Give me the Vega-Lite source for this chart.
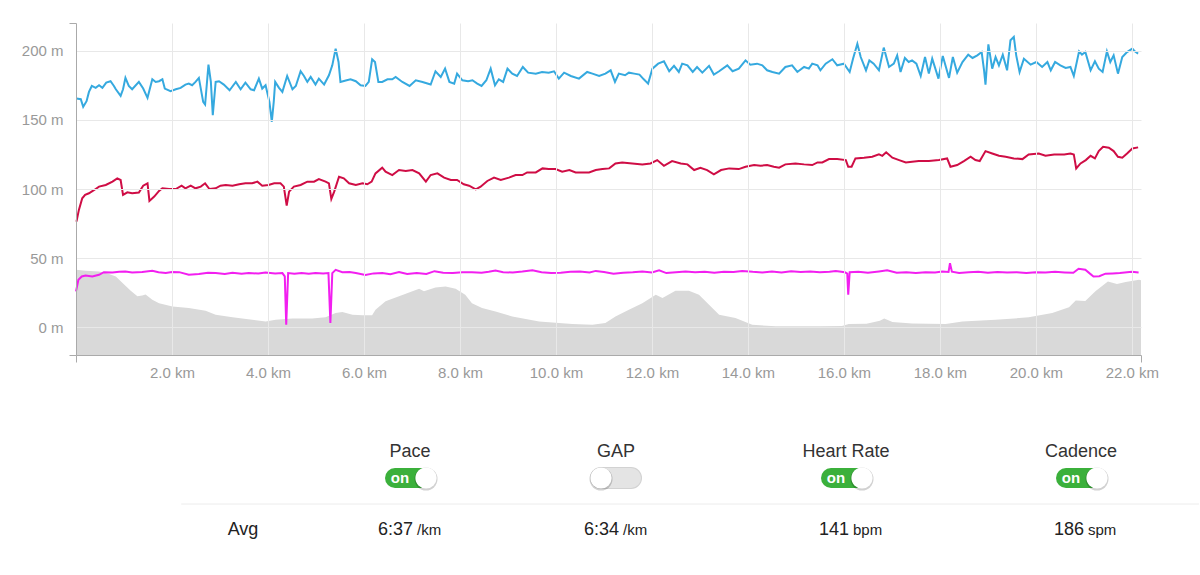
{
  "$schema": "https://vega.github.io/schema/vega-lite/v6.json",
  "padding": {"left": 21, "top": 22, "right": 0, "bottom": 0},
  "background": "white",
  "config": {
    "view": {"stroke": null},
    "font": "Liberation Sans",
    "concat": {"spacing": 59}
  },
  "datasets": {
    "elev": [
      {"km": 0, "m": 41.6}, {"km": 0.2, "m": 40.9}, {"km": 0.48, "m": 40.4}, {"km": 0.69, "m": 38.5},
      {"km": 0.83, "m": 36.8}, {"km": 0.97, "m": 32.0}, {"km": 1.14, "m": 26.4}, {"km": 1.28, "m": 22.4},
      {"km": 1.38, "m": 23.1}, {"km": 1.45, "m": 23.8}, {"km": 1.59, "m": 20.0}, {"km": 1.73, "m": 17.5},
      {"km": 2.01, "m": 15.1}, {"km": 2.35, "m": 13.9}, {"km": 2.7, "m": 12.0}, {"km": 2.91, "m": 9.1},
      {"km": 3.26, "m": 7.2}, {"km": 3.67, "m": 5.5}, {"km": 3.95, "m": 4.3}, {"km": 4.16, "m": 5.5},
      {"km": 4.51, "m": 6.3}, {"km": 4.92, "m": 6.3}, {"km": 5.2, "m": 7.2}, {"km": 5.41, "m": 10.3},
      {"km": 5.55, "m": 11.1}, {"km": 5.76, "m": 9.1}, {"km": 5.97, "m": 8.7}, {"km": 6.17, "m": 8.7},
      {"km": 6.24, "m": 12.7}, {"km": 6.45, "m": 18.8}, {"km": 6.73, "m": 22.4}, {"km": 7.01, "m": 26.0},
      {"km": 7.15, "m": 27.9}, {"km": 7.25, "m": 26.0}, {"km": 7.49, "m": 28.8}, {"km": 7.7, "m": 29.6},
      {"km": 7.91, "m": 27.9}, {"km": 8.11, "m": 23.6}, {"km": 8.25, "m": 17.5}, {"km": 8.46, "m": 13.9},
      {"km": 8.74, "m": 11.5}, {"km": 9.09, "m": 7.9}, {"km": 9.65, "m": 4.3}, {"km": 10.34, "m": 2.4},
      {"km": 10.76, "m": 1.9}, {"km": 11.03, "m": 3.1}, {"km": 11.24, "m": 7.9}, {"km": 11.52, "m": 12.7},
      {"km": 11.8, "m": 17.5}, {"km": 12.08, "m": 23.6}, {"km": 12.22, "m": 21.2}, {"km": 12.49, "m": 26.4},
      {"km": 12.77, "m": 26.4}, {"km": 12.98, "m": 23.6}, {"km": 13.19, "m": 16.3}, {"km": 13.4, "m": 9.1},
      {"km": 13.74, "m": 6.7}, {"km": 14.09, "m": 1.9}, {"km": 14.58, "m": 0.7}, {"km": 15.5, "m": 0.7},
      {"km": 15.96, "m": 0.9}, {"km": 16.1, "m": 2.4}, {"km": 16.47, "m": 2.6}, {"km": 16.75, "m": 4.8},
      {"km": 16.84, "m": 6.3}, {"km": 17.01, "m": 3.8}, {"km": 17.42, "m": 2.8}, {"km": 18.12, "m": 2.4},
      {"km": 18.47, "m": 4.3}, {"km": 19.16, "m": 5.5}, {"km": 19.85, "m": 7.2}, {"km": 20.34, "m": 10.3},
      {"km": 20.69, "m": 14.5}, {"km": 20.83, "m": 19.4}, {"km": 21.03, "m": 19.0}, {"km": 21.24, "m": 26.0},
      {"km": 21.5, "m": 33.2}, {"km": 21.69, "m": 31.3}, {"km": 21.87, "m": 32.7}, {"km": 22.15, "m": 34.4},
      {"km": 22.19, "m": 34.0}
    ],
    "lines": [
      {"s": "pace", "km": 0.01, "v": 165.4}, {"s": "pace", "km": 0.10, "v": 164.9}, {"s": "pace", "km": 0.15, "v": 159.4},
      {"s": "pace", "km": 0.22, "v": 163.5}, {"s": "pace", "km": 0.27, "v": 170.2}, {"s": "pace", "km": 0.33, "v": 174.5},
      {"s": "pace", "km": 0.41, "v": 173.1}, {"s": "pace", "km": 0.48, "v": 175.0}, {"s": "pace", "km": 0.55, "v": 173.1},
      {"s": "pace", "km": 0.63, "v": 176.9}, {"s": "pace", "km": 0.72, "v": 177.9}, {"s": "pace", "km": 0.79, "v": 174.5},
      {"s": "pace", "km": 0.83, "v": 172.1}, {"s": "pace", "km": 0.93, "v": 167.3}, {"s": "pace", "km": 0.98, "v": 172.1},
      {"s": "pace", "km": 1.03, "v": 180.3}, {"s": "pace", "km": 1.10, "v": 174.5}, {"s": "pace", "km": 1.17, "v": 172.1},
      {"s": "pace", "km": 1.31, "v": 177.4}, {"s": "pace", "km": 1.40, "v": 172.6}, {"s": "pace", "km": 1.49, "v": 165.9},
      {"s": "pace", "km": 1.59, "v": 179.3}, {"s": "pace", "km": 1.66, "v": 177.4}, {"s": "pace", "km": 1.73, "v": 177.9},
      {"s": "pace", "km": 1.80, "v": 179.3}, {"s": "pace", "km": 1.85, "v": 172.6}, {"s": "pace", "km": 1.97, "v": 170.7},
      {"s": "pace", "km": 2.08, "v": 172.1}, {"s": "pace", "km": 2.18, "v": 173.1}, {"s": "pace", "km": 2.28, "v": 175.5},
      {"s": "pace", "km": 2.35, "v": 176.2}, {"s": "pace", "km": 2.42, "v": 175.0}, {"s": "pace", "km": 2.49, "v": 177.4},
      {"s": "pace", "km": 2.56, "v": 180.3}, {"s": "pace", "km": 2.65, "v": 163.0}, {"s": "pace", "km": 2.69, "v": 161.1},
      {"s": "pace", "km": 2.76, "v": 189.9}, {"s": "pace", "km": 2.81, "v": 177.4}, {"s": "pace", "km": 2.85, "v": 153.4},
      {"s": "pace", "km": 2.91, "v": 177.4}, {"s": "pace", "km": 2.98, "v": 177.9}, {"s": "pace", "km": 3.08, "v": 175.5},
      {"s": "pace", "km": 3.20, "v": 171.4}, {"s": "pace", "km": 3.33, "v": 177.4}, {"s": "pace", "km": 3.43, "v": 172.1},
      {"s": "pace", "km": 3.53, "v": 176.9}, {"s": "pace", "km": 3.64, "v": 172.1}, {"s": "pace", "km": 3.71, "v": 171.4},
      {"s": "pace", "km": 3.81, "v": 179.8}, {"s": "pace", "km": 3.88, "v": 172.6}, {"s": "pace", "km": 3.95, "v": 175.0},
      {"s": "pace", "km": 4.03, "v": 163.0}, {"s": "pace", "km": 4.08, "v": 148.6}, {"s": "pace", "km": 4.12, "v": 163.0},
      {"s": "pace", "km": 4.15, "v": 177.4}, {"s": "pace", "km": 4.23, "v": 173.1}, {"s": "pace", "km": 4.30, "v": 170.2},
      {"s": "pace", "km": 4.40, "v": 181.7}, {"s": "pace", "km": 4.51, "v": 172.1}, {"s": "pace", "km": 4.58, "v": 174.5},
      {"s": "pace", "km": 4.68, "v": 185.1}, {"s": "pace", "km": 4.75, "v": 181.7}, {"s": "pace", "km": 4.82, "v": 177.4},
      {"s": "pace", "km": 4.89, "v": 181.0}, {"s": "pace", "km": 4.99, "v": 175.5}, {"s": "pace", "km": 5.06, "v": 179.8},
      {"s": "pace", "km": 5.17, "v": 175.5}, {"s": "pace", "km": 5.27, "v": 182.2}, {"s": "pace", "km": 5.34, "v": 189.4},
      {"s": "pace", "km": 5.41, "v": 201.5}, {"s": "pace", "km": 5.47, "v": 191.8}, {"s": "pace", "km": 5.51, "v": 177.4},
      {"s": "pace", "km": 5.62, "v": 178.4}, {"s": "pace", "km": 5.72, "v": 179.3}, {"s": "pace", "km": 5.83, "v": 177.9},
      {"s": "pace", "km": 5.93, "v": 175.0}, {"s": "pace", "km": 6.03, "v": 174.5}, {"s": "pace", "km": 6.10, "v": 177.4},
      {"s": "pace", "km": 6.17, "v": 193.8}, {"s": "pace", "km": 6.23, "v": 191.8}, {"s": "pace", "km": 6.30, "v": 177.4},
      {"s": "pace", "km": 6.38, "v": 177.4}, {"s": "pace", "km": 6.49, "v": 179.3}, {"s": "pace", "km": 6.59, "v": 179.3},
      {"s": "pace", "km": 6.66, "v": 181.0}, {"s": "pace", "km": 6.80, "v": 177.4}, {"s": "pace", "km": 6.95, "v": 174.5},
      {"s": "pace", "km": 7.08, "v": 178.6}, {"s": "pace", "km": 7.22, "v": 177.4}, {"s": "pace", "km": 7.39, "v": 175.5},
      {"s": "pace", "km": 7.49, "v": 185.1}, {"s": "pace", "km": 7.60, "v": 181.0}, {"s": "pace", "km": 7.69, "v": 187.0},
      {"s": "pace", "km": 7.78, "v": 177.4}, {"s": "pace", "km": 7.88, "v": 176.2}, {"s": "pace", "km": 7.94, "v": 183.4},
      {"s": "pace", "km": 8.05, "v": 178.6}, {"s": "pace", "km": 8.17, "v": 177.9}, {"s": "pace", "km": 8.26, "v": 178.6},
      {"s": "pace", "km": 8.36, "v": 176.2}, {"s": "pace", "km": 8.45, "v": 174.5}, {"s": "pace", "km": 8.55, "v": 178.6},
      {"s": "pace", "km": 8.64, "v": 187.0}, {"s": "pace", "km": 8.73, "v": 175.0}, {"s": "pace", "km": 8.81, "v": 179.3},
      {"s": "pace", "km": 8.90, "v": 177.4}, {"s": "pace", "km": 8.99, "v": 187.0}, {"s": "pace", "km": 9.09, "v": 183.4},
      {"s": "pace", "km": 9.19, "v": 181.7}, {"s": "pace", "km": 9.31, "v": 188.2}, {"s": "pace", "km": 9.42, "v": 184.1},
      {"s": "pace", "km": 9.58, "v": 183.4}, {"s": "pace", "km": 9.71, "v": 184.6}, {"s": "pace", "km": 9.85, "v": 184.1},
      {"s": "pace", "km": 9.96, "v": 185.1}, {"s": "pace", "km": 10.06, "v": 179.8}, {"s": "pace", "km": 10.17, "v": 184.1},
      {"s": "pace", "km": 10.31, "v": 181.7}, {"s": "pace", "km": 10.48, "v": 179.8}, {"s": "pace", "km": 10.65, "v": 184.6},
      {"s": "pace", "km": 10.76, "v": 183.4}, {"s": "pace", "km": 10.90, "v": 181.7}, {"s": "pace", "km": 11.03, "v": 183.4},
      {"s": "pace", "km": 11.14, "v": 185.8}, {"s": "pace", "km": 11.23, "v": 177.4}, {"s": "pace", "km": 11.31, "v": 183.4},
      {"s": "pace", "km": 11.44, "v": 182.2}, {"s": "pace", "km": 11.52, "v": 184.1}, {"s": "pace", "km": 11.63, "v": 183.4},
      {"s": "pace", "km": 11.74, "v": 182.7}, {"s": "pace", "km": 11.83, "v": 179.3}, {"s": "pace", "km": 11.92, "v": 176.2},
      {"s": "pace", "km": 12.01, "v": 187.0}, {"s": "pace", "km": 12.13, "v": 190.6}, {"s": "pace", "km": 12.25, "v": 192.3},
      {"s": "pace", "km": 12.36, "v": 185.1}, {"s": "pace", "km": 12.46, "v": 189.0}, {"s": "pace", "km": 12.56, "v": 184.6},
      {"s": "pace", "km": 12.63, "v": 190.6}, {"s": "pace", "km": 12.74, "v": 189.4}, {"s": "pace", "km": 12.85, "v": 184.6},
      {"s": "pace", "km": 12.94, "v": 188.2}, {"s": "pace", "km": 13.05, "v": 184.1}, {"s": "pace", "km": 13.19, "v": 189.0},
      {"s": "pace", "km": 13.29, "v": 182.7}, {"s": "pace", "km": 13.40, "v": 185.1}, {"s": "pace", "km": 13.57, "v": 189.4},
      {"s": "pace", "km": 13.68, "v": 185.1}, {"s": "pace", "km": 13.81, "v": 187.0}, {"s": "pace", "km": 13.95, "v": 193.0},
      {"s": "pace", "km": 14.05, "v": 189.9}, {"s": "pace", "km": 14.19, "v": 190.6}, {"s": "pace", "km": 14.30, "v": 189.4},
      {"s": "pace", "km": 14.40, "v": 185.8}, {"s": "pace", "km": 14.51, "v": 184.6}, {"s": "pace", "km": 14.65, "v": 183.4},
      {"s": "pace", "km": 14.78, "v": 188.2}, {"s": "pace", "km": 14.92, "v": 189.4}, {"s": "pace", "km": 15.03, "v": 184.6},
      {"s": "pace", "km": 15.17, "v": 188.2}, {"s": "pace", "km": 15.27, "v": 187.0}, {"s": "pace", "km": 15.34, "v": 190.6},
      {"s": "pace", "km": 15.45, "v": 189.4}, {"s": "pace", "km": 15.51, "v": 185.8}, {"s": "pace", "km": 15.62, "v": 190.6},
      {"s": "pace", "km": 15.76, "v": 193.8}, {"s": "pace", "km": 15.86, "v": 189.4}, {"s": "pace", "km": 16.00, "v": 190.6},
      {"s": "pace", "km": 16.12, "v": 184.6}, {"s": "pace", "km": 16.19, "v": 194.2}, {"s": "pace", "km": 16.28, "v": 205.0},
      {"s": "pace", "km": 16.35, "v": 195.4}, {"s": "pace", "km": 16.46, "v": 185.8}, {"s": "pace", "km": 16.53, "v": 193.0},
      {"s": "pace", "km": 16.62, "v": 190.6}, {"s": "pace", "km": 16.73, "v": 185.8}, {"s": "pace", "km": 16.83, "v": 202.2},
      {"s": "pace", "km": 16.94, "v": 188.2}, {"s": "pace", "km": 17.04, "v": 190.6}, {"s": "pace", "km": 17.11, "v": 196.6},
      {"s": "pace", "km": 17.18, "v": 184.6}, {"s": "pace", "km": 17.27, "v": 194.7}, {"s": "pace", "km": 17.35, "v": 191.8},
      {"s": "pace", "km": 17.42, "v": 193.0}, {"s": "pace", "km": 17.51, "v": 190.6}, {"s": "pace", "km": 17.60, "v": 181.7},
      {"s": "pace", "km": 17.69, "v": 195.4}, {"s": "pace", "km": 17.77, "v": 183.4}, {"s": "pace", "km": 17.84, "v": 194.2},
      {"s": "pace", "km": 17.97, "v": 179.8}, {"s": "pace", "km": 18.06, "v": 196.2}, {"s": "pace", "km": 18.19, "v": 180.3},
      {"s": "pace", "km": 18.27, "v": 195.4}, {"s": "pace", "km": 18.36, "v": 184.1}, {"s": "pace", "km": 18.47, "v": 191.8},
      {"s": "pace", "km": 18.59, "v": 197.1}, {"s": "pace", "km": 18.68, "v": 194.7}, {"s": "pace", "km": 18.78, "v": 196.6},
      {"s": "pace", "km": 18.87, "v": 199.0}, {"s": "pace", "km": 18.92, "v": 185.8}, {"s": "pace", "km": 18.95, "v": 175.5},
      {"s": "pace", "km": 19.01, "v": 204.5}, {"s": "pace", "km": 19.09, "v": 187.0}, {"s": "pace", "km": 19.16, "v": 195.4},
      {"s": "pace", "km": 19.23, "v": 189.4}, {"s": "pace", "km": 19.31, "v": 197.1}, {"s": "pace", "km": 19.40, "v": 185.8},
      {"s": "pace", "km": 19.47, "v": 207.5}, {"s": "pace", "km": 19.54, "v": 209.9}, {"s": "pace", "km": 19.59, "v": 196.6},
      {"s": "pace", "km": 19.66, "v": 184.6}, {"s": "pace", "km": 19.75, "v": 194.2}, {"s": "pace", "km": 19.89, "v": 189.9},
      {"s": "pace", "km": 20.01, "v": 191.8}, {"s": "pace", "km": 20.13, "v": 188.2}, {"s": "pace", "km": 20.24, "v": 191.8},
      {"s": "pace", "km": 20.31, "v": 185.8}, {"s": "pace", "km": 20.40, "v": 191.8}, {"s": "pace", "km": 20.51, "v": 189.4},
      {"s": "pace", "km": 20.62, "v": 187.5}, {"s": "pace", "km": 20.72, "v": 188.2}, {"s": "pace", "km": 20.79, "v": 181.7},
      {"s": "pace", "km": 20.90, "v": 199.5}, {"s": "pace", "km": 20.96, "v": 197.1}, {"s": "pace", "km": 21.03, "v": 199.0},
      {"s": "pace", "km": 21.14, "v": 185.8}, {"s": "pace", "km": 21.23, "v": 192.3}, {"s": "pace", "km": 21.31, "v": 187.0},
      {"s": "pace", "km": 21.39, "v": 184.6}, {"s": "pace", "km": 21.48, "v": 199.5}, {"s": "pace", "km": 21.55, "v": 191.8},
      {"s": "pace", "km": 21.62, "v": 196.6}, {"s": "pace", "km": 21.71, "v": 183.4}, {"s": "pace", "km": 21.80, "v": 195.4},
      {"s": "pace", "km": 21.90, "v": 199.0}, {"s": "pace", "km": 22.01, "v": 201.5}, {"s": "pace", "km": 22.06, "v": 199.5},
      {"s": "pace", "km": 22.13, "v": 197.9},

      {"s": "hr", "km": 0.01, "v": 76.4}, {"s": "hr", "km": 0.06, "v": 84.9}, {"s": "hr", "km": 0.13, "v": 93.3},
      {"s": "hr", "km": 0.19, "v": 95.7}, {"s": "hr", "km": 0.27, "v": 96.9}, {"s": "hr", "km": 0.38, "v": 99.3},
      {"s": "hr", "km": 0.48, "v": 101.7}, {"s": "hr", "km": 0.62, "v": 102.9}, {"s": "hr", "km": 0.76, "v": 105.3},
      {"s": "hr", "km": 0.86, "v": 107.7}, {"s": "hr", "km": 0.93, "v": 106.5}, {"s": "hr", "km": 0.98, "v": 95.7},
      {"s": "hr", "km": 1.07, "v": 97.6}, {"s": "hr", "km": 1.17, "v": 96.9}, {"s": "hr", "km": 1.31, "v": 97.4},
      {"s": "hr", "km": 1.40, "v": 102.4}, {"s": "hr", "km": 1.49, "v": 104.1}, {"s": "hr", "km": 1.53, "v": 91.4},
      {"s": "hr", "km": 1.63, "v": 94.5}, {"s": "hr", "km": 1.73, "v": 98.6}, {"s": "hr", "km": 1.80, "v": 100.5},
      {"s": "hr", "km": 1.94, "v": 100.0}, {"s": "hr", "km": 2.08, "v": 100.0}, {"s": "hr", "km": 2.20, "v": 102.4},
      {"s": "hr", "km": 2.28, "v": 100.5}, {"s": "hr", "km": 2.39, "v": 102.4}, {"s": "hr", "km": 2.49, "v": 100.5},
      {"s": "hr", "km": 2.60, "v": 101.7}, {"s": "hr", "km": 2.69, "v": 104.1}, {"s": "hr", "km": 2.78, "v": 100.0},
      {"s": "hr", "km": 2.91, "v": 100.5}, {"s": "hr", "km": 3.01, "v": 102.4}, {"s": "hr", "km": 3.12, "v": 102.9},
      {"s": "hr", "km": 3.26, "v": 102.4}, {"s": "hr", "km": 3.40, "v": 103.4}, {"s": "hr", "km": 3.53, "v": 104.1},
      {"s": "hr", "km": 3.67, "v": 104.1}, {"s": "hr", "km": 3.78, "v": 105.3}, {"s": "hr", "km": 3.88, "v": 102.4},
      {"s": "hr", "km": 4.01, "v": 102.9}, {"s": "hr", "km": 4.13, "v": 104.1}, {"s": "hr", "km": 4.26, "v": 104.1},
      {"s": "hr", "km": 4.33, "v": 101.7}, {"s": "hr", "km": 4.39, "v": 88.0}, {"s": "hr", "km": 4.44, "v": 98.1},
      {"s": "hr", "km": 4.54, "v": 101.7}, {"s": "hr", "km": 4.68, "v": 102.9}, {"s": "hr", "km": 4.82, "v": 105.3},
      {"s": "hr", "km": 4.96, "v": 105.3}, {"s": "hr", "km": 5.06, "v": 107.2}, {"s": "hr", "km": 5.20, "v": 105.3},
      {"s": "hr", "km": 5.27, "v": 104.1}, {"s": "hr", "km": 5.32, "v": 92.8}, {"s": "hr", "km": 5.38, "v": 98.1},
      {"s": "hr", "km": 5.48, "v": 108.9}, {"s": "hr", "km": 5.58, "v": 107.7}, {"s": "hr", "km": 5.69, "v": 104.1},
      {"s": "hr", "km": 5.83, "v": 102.9}, {"s": "hr", "km": 5.97, "v": 104.1}, {"s": "hr", "km": 6.07, "v": 103.4},
      {"s": "hr", "km": 6.16, "v": 105.3}, {"s": "hr", "km": 6.24, "v": 111.3}, {"s": "hr", "km": 6.38, "v": 115.4},
      {"s": "hr", "km": 6.45, "v": 112.5}, {"s": "hr", "km": 6.59, "v": 110.1}, {"s": "hr", "km": 6.73, "v": 113.7},
      {"s": "hr", "km": 6.87, "v": 113.0}, {"s": "hr", "km": 7.01, "v": 113.7}, {"s": "hr", "km": 7.15, "v": 111.3},
      {"s": "hr", "km": 7.29, "v": 105.3}, {"s": "hr", "km": 7.39, "v": 110.1}, {"s": "hr", "km": 7.53, "v": 111.3},
      {"s": "hr", "km": 7.67, "v": 108.2}, {"s": "hr", "km": 7.81, "v": 106.5}, {"s": "hr", "km": 7.94, "v": 106.5},
      {"s": "hr", "km": 8.08, "v": 103.4}, {"s": "hr", "km": 8.19, "v": 102.4}, {"s": "hr", "km": 8.33, "v": 99.8},
      {"s": "hr", "km": 8.43, "v": 101.7}, {"s": "hr", "km": 8.57, "v": 105.8}, {"s": "hr", "km": 8.71, "v": 108.2},
      {"s": "hr", "km": 8.85, "v": 106.5}, {"s": "hr", "km": 9.02, "v": 108.2}, {"s": "hr", "km": 9.16, "v": 110.1},
      {"s": "hr", "km": 9.30, "v": 110.1}, {"s": "hr", "km": 9.40, "v": 112.0}, {"s": "hr", "km": 9.58, "v": 112.0},
      {"s": "hr", "km": 9.72, "v": 114.9}, {"s": "hr", "km": 9.85, "v": 114.4}, {"s": "hr", "km": 9.99, "v": 114.4},
      {"s": "hr", "km": 10.13, "v": 112.5}, {"s": "hr", "km": 10.28, "v": 113.7}, {"s": "hr", "km": 10.41, "v": 112.0},
      {"s": "hr", "km": 10.55, "v": 112.0}, {"s": "hr", "km": 10.69, "v": 112.0}, {"s": "hr", "km": 10.83, "v": 113.7},
      {"s": "hr", "km": 10.97, "v": 114.4}, {"s": "hr", "km": 11.11, "v": 114.9}, {"s": "hr", "km": 11.24, "v": 118.5},
      {"s": "hr", "km": 11.38, "v": 119.2}, {"s": "hr", "km": 11.59, "v": 118.5}, {"s": "hr", "km": 11.80, "v": 117.8},
      {"s": "hr", "km": 11.97, "v": 118.5}, {"s": "hr", "km": 12.11, "v": 120.9}, {"s": "hr", "km": 12.25, "v": 116.8},
      {"s": "hr", "km": 12.42, "v": 120.2}, {"s": "hr", "km": 12.60, "v": 118.5}, {"s": "hr", "km": 12.74, "v": 117.8},
      {"s": "hr", "km": 12.88, "v": 113.7}, {"s": "hr", "km": 13.01, "v": 115.4}, {"s": "hr", "km": 13.15, "v": 113.7},
      {"s": "hr", "km": 13.29, "v": 110.6}, {"s": "hr", "km": 13.44, "v": 113.7}, {"s": "hr", "km": 13.61, "v": 114.9},
      {"s": "hr", "km": 13.81, "v": 114.4}, {"s": "hr", "km": 13.95, "v": 116.1}, {"s": "hr", "km": 14.13, "v": 117.3},
      {"s": "hr", "km": 14.26, "v": 116.8}, {"s": "hr", "km": 14.40, "v": 117.3}, {"s": "hr", "km": 14.54, "v": 116.1},
      {"s": "hr", "km": 14.65, "v": 115.4}, {"s": "hr", "km": 14.78, "v": 117.8}, {"s": "hr", "km": 14.99, "v": 118.5},
      {"s": "hr", "km": 15.17, "v": 117.8}, {"s": "hr", "km": 15.34, "v": 117.3}, {"s": "hr", "km": 15.45, "v": 119.2},
      {"s": "hr", "km": 15.55, "v": 119.2}, {"s": "hr", "km": 15.69, "v": 121.6}, {"s": "hr", "km": 15.86, "v": 121.6},
      {"s": "hr", "km": 16.04, "v": 120.9}, {"s": "hr", "km": 16.09, "v": 116.1}, {"s": "hr", "km": 16.16, "v": 116.1},
      {"s": "hr", "km": 16.24, "v": 122.1}, {"s": "hr", "km": 16.42, "v": 122.6}, {"s": "hr", "km": 16.59, "v": 123.3},
      {"s": "hr", "km": 16.73, "v": 125.0}, {"s": "hr", "km": 16.80, "v": 124.0}, {"s": "hr", "km": 16.88, "v": 126.5},
      {"s": "hr", "km": 17.01, "v": 122.6}, {"s": "hr", "km": 17.15, "v": 120.9}, {"s": "hr", "km": 17.29, "v": 119.2},
      {"s": "hr", "km": 17.42, "v": 119.7}, {"s": "hr", "km": 17.56, "v": 120.2}, {"s": "hr", "km": 17.77, "v": 120.2},
      {"s": "hr", "km": 17.98, "v": 120.9}, {"s": "hr", "km": 18.15, "v": 122.1}, {"s": "hr", "km": 18.22, "v": 116.1},
      {"s": "hr", "km": 18.36, "v": 117.3}, {"s": "hr", "km": 18.50, "v": 120.2}, {"s": "hr", "km": 18.64, "v": 123.3},
      {"s": "hr", "km": 18.74, "v": 120.9}, {"s": "hr", "km": 18.83, "v": 120.2}, {"s": "hr", "km": 18.95, "v": 127.4},
      {"s": "hr", "km": 19.09, "v": 125.7}, {"s": "hr", "km": 19.23, "v": 124.0}, {"s": "hr", "km": 19.37, "v": 123.3},
      {"s": "hr", "km": 19.54, "v": 122.1}, {"s": "hr", "km": 19.72, "v": 121.6}, {"s": "hr", "km": 19.85, "v": 125.0},
      {"s": "hr", "km": 20.06, "v": 125.7}, {"s": "hr", "km": 20.20, "v": 124.0}, {"s": "hr", "km": 20.38, "v": 125.0},
      {"s": "hr", "km": 20.59, "v": 125.0}, {"s": "hr", "km": 20.72, "v": 125.7}, {"s": "hr", "km": 20.79, "v": 125.0},
      {"s": "hr", "km": 20.84, "v": 114.9}, {"s": "hr", "km": 20.93, "v": 118.5}, {"s": "hr", "km": 21.04, "v": 120.9},
      {"s": "hr", "km": 21.14, "v": 124.0}, {"s": "hr", "km": 21.23, "v": 122.1}, {"s": "hr", "km": 21.31, "v": 127.4},
      {"s": "hr", "km": 21.40, "v": 130.5}, {"s": "hr", "km": 21.52, "v": 129.8}, {"s": "hr", "km": 21.62, "v": 127.4},
      {"s": "hr", "km": 21.71, "v": 123.3}, {"s": "hr", "km": 21.80, "v": 122.6}, {"s": "hr", "km": 21.90, "v": 125.7},
      {"s": "hr", "km": 22.01, "v": 129.3}, {"s": "hr", "km": 22.13, "v": 130.1},

      {"s": "cad", "km": 0.0, "v": 26.0}, {"s": "cad", "km": 0.05, "v": 34.4}, {"s": "cad", "km": 0.12, "v": 36.8},
      {"s": "cad", "km": 0.2, "v": 37.5}, {"s": "cad", "km": 0.34, "v": 36.8}, {"s": "cad", "km": 0.48, "v": 38.0},
      {"s": "cad", "km": 0.58, "v": 39.9}, {"s": "cad", "km": 0.76, "v": 39.6}, {"s": "cad", "km": 0.9, "v": 40.1},
      {"s": "cad", "km": 1.03, "v": 40.4}, {"s": "cad", "km": 1.17, "v": 39.7}, {"s": "cad", "km": 1.38, "v": 40.0},
      {"s": "cad", "km": 1.59, "v": 40.9}, {"s": "cad", "km": 1.72, "v": 39.8}, {"s": "cad", "km": 1.87, "v": 39.2},
      {"s": "cad", "km": 2.0, "v": 40.0}, {"s": "cad", "km": 2.15, "v": 39.9}, {"s": "cad", "km": 2.35, "v": 38.0},
      {"s": "cad", "km": 2.56, "v": 38.5}, {"s": "cad", "km": 2.75, "v": 39.5}, {"s": "cad", "km": 2.91, "v": 39.2},
      {"s": "cad", "km": 3.1, "v": 38.6}, {"s": "cad", "km": 3.26, "v": 39.4}, {"s": "cad", "km": 3.45, "v": 38.8},
      {"s": "cad", "km": 3.6, "v": 39.2}, {"s": "cad", "km": 3.8, "v": 38.9}, {"s": "cad", "km": 3.95, "v": 39.6},
      {"s": "cad", "km": 4.15, "v": 39.0}, {"s": "cad", "km": 4.3, "v": 39.2}, {"s": "cad", "km": 4.35, "v": 36.8},
      {"s": "cad", "km": 4.38, "v": 1.9}, {"s": "cad", "km": 4.42, "v": 39.2}, {"s": "cad", "km": 4.55, "v": 38.8},
      {"s": "cad", "km": 4.7, "v": 39.3}, {"s": "cad", "km": 4.85, "v": 38.7}, {"s": "cad", "km": 4.99, "v": 39.2},
      {"s": "cad", "km": 5.15, "v": 38.9}, {"s": "cad", "km": 5.26, "v": 39.2}, {"s": "cad", "km": 5.3, "v": 3.1},
      {"s": "cad", "km": 5.34, "v": 39.2}, {"s": "cad", "km": 5.41, "v": 41.6}, {"s": "cad", "km": 5.55, "v": 39.9},
      {"s": "cad", "km": 5.7, "v": 40.0}, {"s": "cad", "km": 5.83, "v": 39.2}, {"s": "cad", "km": 6.03, "v": 37.8},
      {"s": "cad", "km": 6.2, "v": 39.0}, {"s": "cad", "km": 6.38, "v": 39.2}, {"s": "cad", "km": 6.55, "v": 38.4},
      {"s": "cad", "km": 6.73, "v": 39.9}, {"s": "cad", "km": 6.9, "v": 38.5}, {"s": "cad", "km": 7.1, "v": 39.2},
      {"s": "cad", "km": 7.3, "v": 38.6}, {"s": "cad", "km": 7.47, "v": 40.6}, {"s": "cad", "km": 7.65, "v": 39.4},
      {"s": "cad", "km": 7.85, "v": 39.2}, {"s": "cad", "km": 8.05, "v": 39.8}, {"s": "cad", "km": 8.25, "v": 39.9},
      {"s": "cad", "km": 8.45, "v": 39.5}, {"s": "cad", "km": 8.6, "v": 40.2}, {"s": "cad", "km": 8.74, "v": 41.0},
      {"s": "cad", "km": 8.9, "v": 39.9}, {"s": "cad", "km": 9.1, "v": 39.6}, {"s": "cad", "km": 9.3, "v": 40.3},
      {"s": "cad", "km": 9.51, "v": 41.3}, {"s": "cad", "km": 9.7, "v": 39.8}, {"s": "cad", "km": 9.9, "v": 39.3},
      {"s": "cad", "km": 10.1, "v": 39.5}, {"s": "cad", "km": 10.3, "v": 40.2}, {"s": "cad", "km": 10.5, "v": 40.4},
      {"s": "cad", "km": 10.7, "v": 39.7}, {"s": "cad", "km": 10.83, "v": 40.8}, {"s": "cad", "km": 11.0, "v": 40.0},
      {"s": "cad", "km": 11.2, "v": 38.8}, {"s": "cad", "km": 11.4, "v": 39.5}, {"s": "cad", "km": 11.6, "v": 39.8},
      {"s": "cad", "km": 11.8, "v": 40.3}, {"s": "cad", "km": 12.0, "v": 39.6}, {"s": "cad", "km": 12.15, "v": 41.2},
      {"s": "cad", "km": 12.3, "v": 39.2}, {"s": "cad", "km": 12.5, "v": 39.8}, {"s": "cad", "km": 12.7, "v": 40.3},
      {"s": "cad", "km": 12.9, "v": 39.9}, {"s": "cad", "km": 13.1, "v": 40.1}, {"s": "cad", "km": 13.3, "v": 39.5},
      {"s": "cad", "km": 13.5, "v": 40.2}, {"s": "cad", "km": 13.7, "v": 40.0}, {"s": "cad", "km": 13.88, "v": 40.8},
      {"s": "cad", "km": 14.1, "v": 40.1}, {"s": "cad", "km": 14.3, "v": 39.7}, {"s": "cad", "km": 14.5, "v": 40.4},
      {"s": "cad", "km": 14.7, "v": 39.6}, {"s": "cad", "km": 14.9, "v": 40.5}, {"s": "cad", "km": 15.1, "v": 40.0},
      {"s": "cad", "km": 15.3, "v": 40.3}, {"s": "cad", "km": 15.5, "v": 39.8}, {"s": "cad", "km": 15.7, "v": 40.2},
      {"s": "cad", "km": 15.83, "v": 40.8}, {"s": "cad", "km": 16.02, "v": 39.9}, {"s": "cad", "km": 16.07, "v": 38.8},
      {"s": "cad", "km": 16.09, "v": 23.6}, {"s": "cad", "km": 16.12, "v": 39.9}, {"s": "cad", "km": 16.3, "v": 40.2},
      {"s": "cad", "km": 16.5, "v": 39.4}, {"s": "cad", "km": 16.73, "v": 40.4}, {"s": "cad", "km": 16.9, "v": 41.2},
      {"s": "cad", "km": 17.1, "v": 39.5}, {"s": "cad", "km": 17.3, "v": 39.9}, {"s": "cad", "km": 17.5, "v": 39.3},
      {"s": "cad", "km": 17.7, "v": 39.8}, {"s": "cad", "km": 17.9, "v": 39.6}, {"s": "cad", "km": 18.05, "v": 40.4},
      {"s": "cad", "km": 18.18, "v": 40.0}, {"s": "cad", "km": 18.21, "v": 46.4}, {"s": "cad", "km": 18.25, "v": 40.2},
      {"s": "cad", "km": 18.4, "v": 39.2}, {"s": "cad", "km": 18.6, "v": 39.8}, {"s": "cad", "km": 18.8, "v": 40.2},
      {"s": "cad", "km": 19.0, "v": 39.4}, {"s": "cad", "km": 19.2, "v": 40.0}, {"s": "cad", "km": 19.4, "v": 39.6},
      {"s": "cad", "km": 19.6, "v": 39.9}, {"s": "cad", "km": 19.8, "v": 39.3}, {"s": "cad", "km": 20.0, "v": 39.8},
      {"s": "cad", "km": 20.2, "v": 39.6}, {"s": "cad", "km": 20.4, "v": 40.1}, {"s": "cad", "km": 20.6, "v": 39.7},
      {"s": "cad", "km": 20.78, "v": 39.4}, {"s": "cad", "km": 20.89, "v": 42.3}, {"s": "cad", "km": 21.03, "v": 41.6},
      {"s": "cad", "km": 21.12, "v": 39.0}, {"s": "cad", "km": 21.2, "v": 36.8}, {"s": "cad", "km": 21.32, "v": 37.0},
      {"s": "cad", "km": 21.45, "v": 38.8}, {"s": "cad", "km": 21.6, "v": 39.0}, {"s": "cad", "km": 21.75, "v": 39.2},
      {"s": "cad", "km": 21.9, "v": 39.9}, {"s": "cad", "km": 22.0, "v": 40.1}, {"s": "cad", "km": 22.14, "v": 39.6}
    ],
    "cols": [
      {"col": "Avg", "i": 0, "on": false, "avg": "Avg", "unit": ""},
      {"col": "Pace", "i": 1, "on": true, "avg": "6:37", "unit": "/km"},
      {"col": "GAP", "i": 2, "on": false, "avg": "6:34", "unit": "/km"},
      {"col": "Heart Rate", "i": 3, "on": true, "avg": "141", "unit": "bpm"},
      {"col": "Cadence", "i": 4, "on": true, "avg": "186", "unit": "spm"}
    ]
  },
  "vconcat": [
    {
      "width": 1065,
      "height": 332,
      "encoding": {
        "x": {
          "field": "km",
          "type": "quantitative",
          "scale": {"domain": [0, 22.19], "nice": false, "zero": false},
          "axis": {
            "title": null,
            "values": [0, 2, 4, 6, 8, 10, 12, 14, 16, 18, 20, 22, 22.19],
            "labelExpr": "datum.value > 0 && datum.value < 22.1 ? format(datum.value, '.1f') + ' km' : ''",
            "labelFontSize": 15,
            "labelColor": "#999999",
            "labelPadding": 3,
            "labelOverlap": false,
            "labelFlush": false,
            "tickSize": 7,
            "tickColor": {"condition": {"test": "datum.value == 0 || datum.value > 22.1", "value": "#aaaaaa"}, "value": "transparent"},
            "domainColor": "#aaaaaa",
            "grid": true,
            "gridColor": {"condition": {"test": "datum.value == 0 || datum.value > 22.1", "value": "transparent"}, "value": "#e8e8e8"},
            "zindex": 1
          }
        }
      },
      "layer": [
        {
          "data": {"name": "elev"},
          "mark": {"type": "area", "color": "#d9d9d9", "opacity": 1},
          "encoding": {
            "y": {
              "field": "m",
              "type": "quantitative",
              "scale": {"domain": [-20, 220], "nice": false, "zero": false},
              "axis": {
                "title": null,
                "values": [-20, 0, 50, 100, 150, 200, 220],
                "labelExpr": "datum.value >= 0 && datum.value <= 200 ? datum.value + ' m' : ''",
                "labelFontSize": 15,
                "labelColor": "#999999",
                "labelPadding": 6,
                "tickSize": 7,
                "tickColor": {"condition": {"test": "datum.value < -10 || datum.value > 210", "value": "#aaaaaa"}, "value": "transparent"},
                "domainColor": "#aaaaaa",
                "grid": true,
                "gridColor": {"condition": {"test": "datum.value < -10 || datum.value > 210", "value": "transparent"}, "value": "#e8e8e8"},
                "zindex": 1
              }
            },
            "y2": {"datum": -20}
          }
        },
        {
          "data": {"name": "lines"},
          "mark": {"type": "line", "strokeWidth": 2, "interpolate": "linear"},
          "encoding": {
            "y": {"field": "v", "type": "quantitative"},
            "color": {
              "field": "s",
              "type": "nominal",
              "scale": {"domain": ["cad", "hr", "pace"], "range": ["#f21ff0", "#cf0d45", "#35a9df"]},
              "legend": null
            }
          }
        }
      ]
    },
    {
      "width": 1123,
      "height": 104,
      "data": {"name": "cols"},
      "encoding": {
        "x": {
          "field": "i",
          "type": "quantitative",
          "scale": {"domain": [0, 1, 2, 3, 4], "range": [167, 334, 540, 770, 1005]},
          "axis": null
        }
      },
      "layer": [
        {
          "transform": [{"filter": "datum.i > 0"}],
          "mark": {"type": "text", "fontSize": 18, "color": "#333333", "baseline": "middle"},
          "encoding": {
            "y": {"datum": "head", "type": "ordinal", "scale": {"type": "point", "domain": ["head", "toggle", "sep", "avg"], "padding": 0.5}, "axis": null},
            "text": {"field": "col"}
          }
        },
        {
          "mark": {"type": "rule", "color": "#ececec", "strokeWidth": 1},
          "encoding": {
            "x": {"datum": -0.37},
            "x2": {"value": "width"},
            "y": {"datum": "sep", "type": "ordinal"}
          },
          "transform": [{"filter": "datum.i == 0"}]
        },
        {
          "transform": [{"filter": "!datum.on && datum.i > 0"}],
          "mark": {"type": "rule", "strokeWidth": 22, "strokeCap": "round", "xOffset": -15, "x2Offset": 15, "color": "#d2d2d2"},
          "encoding": {
            "x2": {"field": "i"},
            "y": {"datum": "toggle", "type": "ordinal"}
          }
        },
        {
          "transform": [{"filter": "datum.i > 0"}],
          "mark": {"type": "rule", "strokeWidth": 20, "strokeCap": "round", "xOffset": -15, "x2Offset": 15},
          "encoding": {
            "x2": {"field": "i"},
            "y": {"datum": "toggle", "type": "ordinal"},
            "color": {"condition": {"test": "datum.on", "value": "#3bb03b"}, "value": "#e4e4e4"}
          }
        },
        {
          "transform": [{"filter": "datum.on"}],
          "mark": {"type": "text", "text": "on", "color": "white", "fontWeight": "bold", "fontSize": 15, "baseline": "middle", "xOffset": -10},
          "encoding": {
            "y": {"datum": "toggle", "type": "ordinal"}
          }
        },
        {
          "transform": [{"filter": "datum.on"}],
          "mark": {"type": "point", "shape": "circle", "filled": true, "color": "#000000", "opacity": 0.18, "size": 530, "xOffset": 16, "yOffset": 1},
          "encoding": {"y": {"datum": "toggle", "type": "ordinal"}}
        },
        {
          "transform": [{"filter": "datum.on"}],
          "mark": {"type": "point", "shape": "circle", "filled": true, "color": "#ffffff", "opacity": 1, "size": 450, "xOffset": 16},
          "encoding": {"y": {"datum": "toggle", "type": "ordinal"}}
        },
        {
          "transform": [{"filter": "!datum.on && datum.i > 0"}],
          "mark": {"type": "point", "shape": "circle", "filled": true, "color": "#000000", "opacity": 0.18, "size": 530, "xOffset": -15, "yOffset": 1},
          "encoding": {"y": {"datum": "toggle", "type": "ordinal"}}
        },
        {
          "transform": [{"filter": "!datum.on && datum.i > 0"}],
          "mark": {"type": "point", "shape": "circle", "filled": true, "color": "#ffffff", "opacity": 1, "size": 450, "xOffset": -15},
          "encoding": {"y": {"datum": "toggle", "type": "ordinal"}}
        },
        {
          "transform": [{"filter": "datum.i == 0"}],
          "mark": {"type": "text", "fontSize": 18, "color": "#222222", "baseline": "middle"},
          "encoding": {
            "y": {"datum": "avg", "type": "ordinal"},
            "text": {"field": "avg"}
          }
        },
        {
          "transform": [{"filter": "datum.i > 0"}],
          "mark": {"type": "text", "fontSize": 18, "color": "#222222", "baseline": "middle", "align": "right", "dx": 3},
          "encoding": {
            "y": {"datum": "avg", "type": "ordinal"},
            "text": {"field": "avg"}
          }
        },
        {
          "transform": [{"filter": "datum.i > 0"}],
          "mark": {"type": "text", "fontSize": 15, "color": "#222222", "baseline": "middle", "align": "left", "dx": 7},
          "encoding": {
            "y": {"datum": "avg", "type": "ordinal"},
            "text": {"field": "unit"}
          }
        }
      ]
    }
  ]
}
